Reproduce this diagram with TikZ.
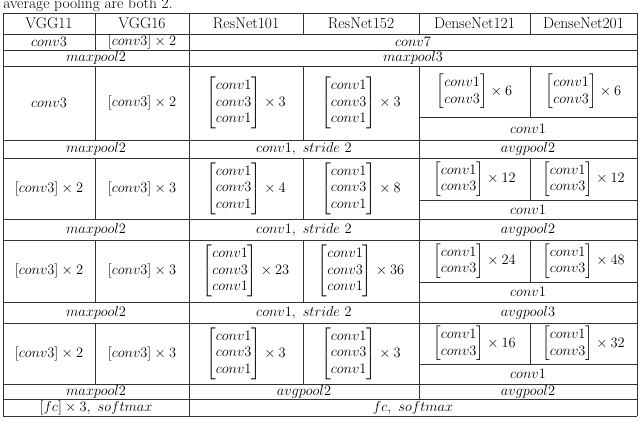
\documentclass[tikz,border=0pt]{standalone}
\usepackage{amsmath}
\begin{document}
\begin{tikzpicture}[x=1pt,y=-1pt,line width=0.8pt,
  cell/.style={inner sep=0pt,font=\fontsize{15.5}{16.5}\selectfont},
  grid/.style={draw=black!80}]
\useasboundingbox (0,0) rectangle (640,426);
\node[cell,anchor=base west] (cap) at (3,8) {average pooling are both 2.};
% horizontal lines
\foreach \y in {13,34,50,66,140,158,219,240,302,323,384,399,416}
  \draw[grid] (3,\y) -- (637,\y);
\foreach \y in {117,200,282,364}
  \draw[grid] (419,\y) -- (637,\y);
% vertical lines
\draw[grid] (3,13) -- (3,416);
\draw[grid] (637,13) -- (637,416);
\draw[grid] (189,13) -- (189,416);
\draw[grid] (419,13) -- (419,34);
\draw[grid] (419,66) -- (419,399);
\draw[grid] (95,13) -- (95,50);
\draw[grid] (303,13) -- (303,34);
\draw[grid] (530,13) -- (530,34);
\foreach \a/\b/\c in {66/140/117,158/219/200,240/302/282,323/384/364}{
  \draw[grid] (95,\a) -- (95,\b);
  \draw[grid] (303,\a) -- (303,\b);
  \draw[grid] (530,\a) -- (530,\c);
}
% header
\node[cell] (h1) at (49,23.5) {VGG11};
\node[cell] (h2) at (142,23.5) {VGG16};
\node[cell] (h3) at (246,23.5) {ResNet101};
\node[cell] (h4) at (361,23.5) {ResNet152};
\node[cell] (h5) at (474.5,23.5) {DenseNet121};
\node[cell] (h6) at (583.5,23.5) {DenseNet201};
% conv row
\node[cell] (c1) at (49,42) {$conv3$};
\node[cell] (c2) at (142,42) {$[conv3]\times 2$};
\node[cell] (c3) at (413,42) {$conv7$};
\node[cell] (m1) at (96,58) {$maxpool2$};
\node[cell] (m2) at (413,58) {$maxpool3$};
% blocks
\newcommand{\rblk}[1]{$\begin{bmatrix}conv1\\conv3\\conv1\end{bmatrix}\times #1$}
\newcommand{\dblk}[1]{$\begin{bmatrix}conv1\\conv3\end{bmatrix}\times #1$}
% block1
\node[cell] (b1a) at (49,103) {$conv3$};
\node[cell] (b1b) at (142,103) {$[conv3]\times 2$};
\node[cell] (b1c) at (246,103) {\rblk{3}};
\node[cell] (b1d) at (361,103) {\rblk{3}};
\node[cell] (b1e) at (474.5,91.5) {\dblk{6}};
\node[cell] (b1f) at (583.5,91.5) {\dblk{6}};
\node[cell] (b1g) at (528,128.5) {$conv1$};
\node[cell] (r1a) at (96,149) {$maxpool2$};
\node[cell] (r1b) at (304,149) {$conv1,\ stride\ 2$};
\node[cell] (r1c) at (528,149) {$avgpool2$};
% block2
\node[cell] (b2a) at (49,188.5) {$[conv3]\times 2$};
\node[cell] (b2b) at (142,188.5) {$[conv3]\times 3$};
\node[cell] (b2c) at (246,188.5) {\rblk{4}};
\node[cell] (b2d) at (361,188.5) {\rblk{8}};
\node[cell] (b2e) at (474.5,179) {\dblk{12}};
\node[cell] (b2f) at (583.5,179) {\dblk{12}};
\node[cell] (b2g) at (528,209.5) {$conv1$};
\node[cell] (r2a) at (96,229.5) {$maxpool2$};
\node[cell] (r2b) at (304,229.5) {$conv1,\ stride\ 2$};
\node[cell] (r2c) at (528,229.5) {$avgpool2$};
% block3
\node[cell] (b3a) at (49,271) {$[conv3]\times 2$};
\node[cell] (b3b) at (142,271) {$[conv3]\times 3$};
\node[cell] (b3c) at (246,271) {\rblk{23}};
\node[cell] (b3d) at (361,271) {\rblk{36}};
\node[cell] (b3e) at (474.5,261) {\dblk{24}};
\node[cell] (b3f) at (583.5,261) {\dblk{48}};
\node[cell] (b3g) at (528,292) {$conv1$};
\node[cell] (r3a) at (96,312.5) {$maxpool2$};
\node[cell] (r3b) at (304,312.5) {$conv1,\ stride\ 2$};
\node[cell] (r3c) at (528,312.5) {$avgpool3$};
% block4
\node[cell] (b4a) at (49,353.5) {$[conv3]\times 2$};
\node[cell] (b4b) at (142,353.5) {$[conv3]\times 3$};
\node[cell] (b4c) at (246,353.5) {\rblk{3}};
\node[cell] (b4d) at (361,353.5) {\rblk{3}};
\node[cell] (b4e) at (474.5,343.5) {\dblk{16}};
\node[cell] (b4f) at (583.5,343.5) {\dblk{32}};
\node[cell] (b4g) at (528,374) {$conv1$};
\node[cell] (r4a) at (96,391.5) {$maxpool2$};
\node[cell] (r4b) at (304,391.5) {$avgpool2$};
\node[cell] (r4c) at (528,391.5) {$avgpool2$};
\node[cell] (f1) at (96,407.5) {$[fc]\times 3,\ softmax$};
\node[cell] (f2) at (413,407.5) {$fc,\ softmax$};
\end{tikzpicture}
\end{document}
